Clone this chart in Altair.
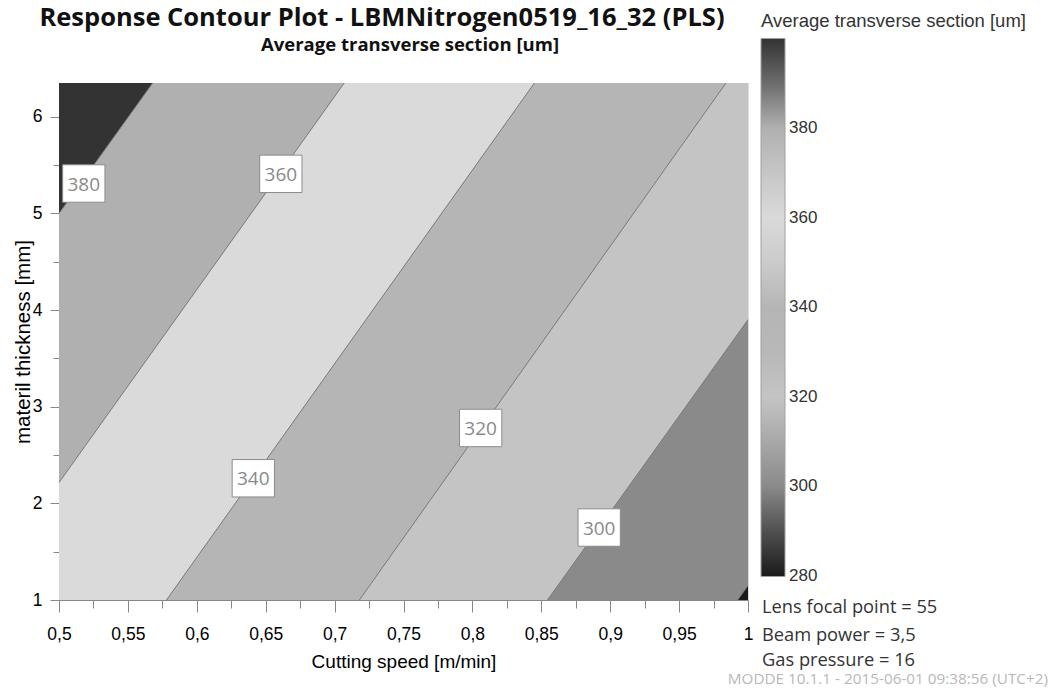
import altair as alt
import pandas as pd

# Design region
X_MIN, X_MAX = 0.5, 1.0
Y_MIN, Y_MAX = 1.0, 6.35

# Contour levels and the end points of each contour line (cutting speed, thickness)
levels = [280, 300, 320, 340, 360, 380]
line_x0 = [0.9925, 0.8545, 0.718, 0.578, 0.5, 0.5]
line_y0 = [1.0, 1.0, 1.0, 1.0, 2.215, 5.0]
line_x1 = [1.0, 1.0, 0.984, 0.845, 0.707, 0.568]
line_y1 = [1.15, 3.9, 6.35, 6.35, 6.35, 6.35]

# Contour labels
label_levels = [300, 320, 340, 360, 380]
label_x = [0.892, 0.806, 0.641, 0.661, 0.518]
label_y = [1.75, 2.78, 2.26, 5.41, 5.31]

# Grey colour map of the response (the first stop sits just under 280 so that
# the bottom legend label stays centred on the end of the colour bar)
color_stops = [279.9, 290, 300, 310, 320, 330, 340, 350, 360, 370, 380, 390, 400]
color_grays = ["#1a1a1a", "#505050", "#8a8a8a", "#a8a8a8", "#c4c4c4", "#b8b8b8",
               "#b5b5b5", "#cbcbcb", "#dadada", "#c6c6c6", "#b0b0b0", "#6c6c6c", "#333333"]
legend_values = [280, 300, 320, 340, 360, 380]

# Axis ticks
x_major = [0.5, 0.55, 0.6, 0.65, 0.7, 0.75, 0.8, 0.85, 0.9, 0.95, 1.0]
x_minor = [0.525, 0.575, 0.625, 0.675, 0.725, 0.775, 0.825, 0.875, 0.925, 0.975]
y_major = [1, 2, 3, 4, 5, 6]
y_minor = [1.5, 2.5, 3.5, 4.5, 5.5]

factors = ["Lens focal point = 55", "Beam power = 3,5", "Gas pressure = 16"]
footer = "MODDE 10.1.1 - 2015-06-01 09:38:56 (UTC+2)"
title = "Response Contour Plot - LBMNitrogen0519_16_32 (PLS)"
response = "Average transverse section [um]"

FONT = "Open Sans"
AXIS_GREY = "#8c8c8c"
TEXT = "#333333"

x_scale = alt.Scale(domain=[X_MIN, X_MAX], nice=False, zero=False)
y_scale = alt.Scale(domain=[Y_MIN, Y_MAX], nice=False, zero=False)

x_is_major = "abs(datum.value * 20 - round(datum.value * 20)) < 1e-6"
y_is_major = "abs(datum.value - round(datum.value)) < 1e-6"

x_axis = alt.Axis(
    title="Cutting speed [m/min]",
    values=sorted(x_major + x_minor),
    labelExpr=f"{x_is_major} ? replace(format(datum.value, '.2~f'), '.', ',') : ''",
    tickSize={"condition": {"test": x_is_major, "value": 12}, "value": 8},
    labelPadding=13, labelOverlap=False, labelFlush=False,
    labelFontSize=17.5, titleFontSize=19, titleFontWeight="normal",
    titlePadding=10, grid=False,
)
y_axis = alt.Axis(
    title="materil thickness [mm]",
    values=sorted(y_major + y_minor),
    labelExpr=f"{y_is_major} ? format(datum.value, 'd') : ''",
    tickSize={"condition": {"test": y_is_major, "value": 9}, "value": 6},
    labelPadding=8, labelOverlap=False, labelFlush=False,
    labelFontSize=17.5, titleFontSize=20.5, titleFontWeight="normal",
    titlePadding=-1, grid=False,
)

color = alt.Color(
    "lv:Q",
    scale=alt.Scale(domain=color_stops, range=color_grays, interpolate="rgb"),
    legend=alt.Legend(
        title=response, orient="none", legendX=702, legendY=-71,
        direction="vertical", type="gradient", values=legend_values,
        gradientLength=538, gradientThickness=24,
        gradientStrokeColor="#a0a0a0", gradientStrokeWidth=1,
        labelFontSize=17, labelColor=TEXT, labelOffset=4, labelBaseline="middle",
        titleFontSize=18.5, titleFontWeight="normal", titleColor=TEXT,
        titleLimit=400, titlePadding=8, labelOverlap=False,
    ),
)


def region_rows(i):
    """Polygon (as a horizontal area) of the part of the region above contour i."""
    x0, y0, x1, y1 = line_x0[i], line_y0[i], line_x1[i], line_y1[i]
    rows = []
    if y0 > Y_MIN:  # the line enters through the left edge
        rows.append((Y_MIN, X_MIN))
    rows.append((y0, x0))
    rows.append((y1, x1))
    if y1 < Y_MAX:  # the line leaves through the right edge
        rows.append((Y_MAX, X_MAX))
    band_value = levels[i] + 20
    return pd.DataFrame({"y": [r[0] for r in rows], "xr": [r[1] for r in rows],
                         "xl": X_MIN, "lv": band_value})


def area_layer(df):
    return alt.Chart(df).mark_area(orient="horizontal", opacity=1).encode(
        y=alt.Y("y:Q", scale=y_scale, axis=y_axis),
        x=alt.X("xr:Q", scale=x_scale, axis=x_axis, stack=None),
        x2="xl:Q",
        color=color,
    )


base_df = pd.DataFrame({"y": [Y_MIN, Y_MAX], "xr": [X_MAX, X_MAX], "xl": X_MIN, "lv": levels[0]})
layers = [area_layer(base_df)] + [area_layer(region_rows(i)) for i in range(len(levels))]

lines_df = pd.DataFrame({"lv": levels, "x0": line_x0, "y0": line_y0, "x1": line_x1, "y1": line_y1})
layers.append(
    alt.Chart(lines_df).mark_rule(color="#7a7a7a", strokeWidth=1).encode(
        x=alt.X("x0:Q", scale=x_scale, axis=x_axis),
        y=alt.Y("y0:Q", scale=y_scale, axis=y_axis),
        x2="x1:Q", y2="y1:Q",
    )
)

labels_df = pd.DataFrame({"lv": label_levels, "x": label_x, "y": label_y})
layers.append(
    alt.Chart(labels_df).mark_point(
        shape="M-1.13,-1L1.13,-1L1.13,1L-1.13,1Z", size=1400,
        filled=True, fill="white", stroke="#8c8c8c", strokeWidth=1, opacity=1,
    ).encode(
        x=alt.X("x:Q", scale=x_scale, axis=x_axis),
        y=alt.Y("y:Q", scale=y_scale, axis=y_axis),
    )
)
layers.append(
    alt.Chart(labels_df).mark_text(font=FONT, fontSize=19, color="#8a8a8a", baseline="middle", dy=1).encode(
        x=alt.X("x:Q", scale=x_scale, axis=x_axis),
        y=alt.Y("y:Q", scale=y_scale, axis=y_axis),
        text="lv:Q",
    )
)

# Chart title and the response name below it
layers.append(
    alt.Chart(pd.DataFrame({"t": [title]})).mark_text(
        font=FONT, fontSize=25.5, fontWeight="bold", color="#111111", baseline="middle"
    ).encode(text="t:N", x=alt.value(323), y=alt.value(-65))
)
layers.append(
    alt.Chart(pd.DataFrame({"t": [response]})).mark_text(
        font=FONT, fontSize=18.5, fontWeight="bold", color="#111111", baseline="middle"
    ).encode(text="t:N", x=alt.value(351), y=alt.value(-38))
)

# Factor settings, one line each
for y_px, note in zip([525, 553, 578], factors):
    layers.append(
        alt.Chart(pd.DataFrame({"t": [note]})).mark_text(
            font=FONT, fontSize=18.3, color=TEXT, align="left", baseline="middle"
        ).encode(text="t:N", x=alt.value(703), y=alt.value(y_px))
    )

# Software stamp
layers.append(
    alt.Chart(pd.DataFrame({"t": [footer]})).mark_text(
        font=FONT, fontSize=15.3, color="#b8b8b8", align="right", baseline="middle"
    ).encode(text="t:N", x=alt.value(989), y=alt.value(596))
)

chart = alt.layer(*layers).properties(
    width=689, height=517,
    autosize=alt.AutoSizeParams(type="none"),
    padding={"left": 59, "top": 83, "right": 306, "bottom": 88},
).configure_view(
    stroke=AXIS_GREY, strokeWidth=1
).configure_axis(
    domainColor=AXIS_GREY, tickColor=AXIS_GREY, labelColor=TEXT, titleColor=TEXT,
    labelFont=FONT, titleFont=FONT,
).configure_legend(
    labelFont=FONT, titleFont=FONT,
).configure(background="white")

chart.save("out.html", embed_options={"renderer": "svg", "actions": False})
